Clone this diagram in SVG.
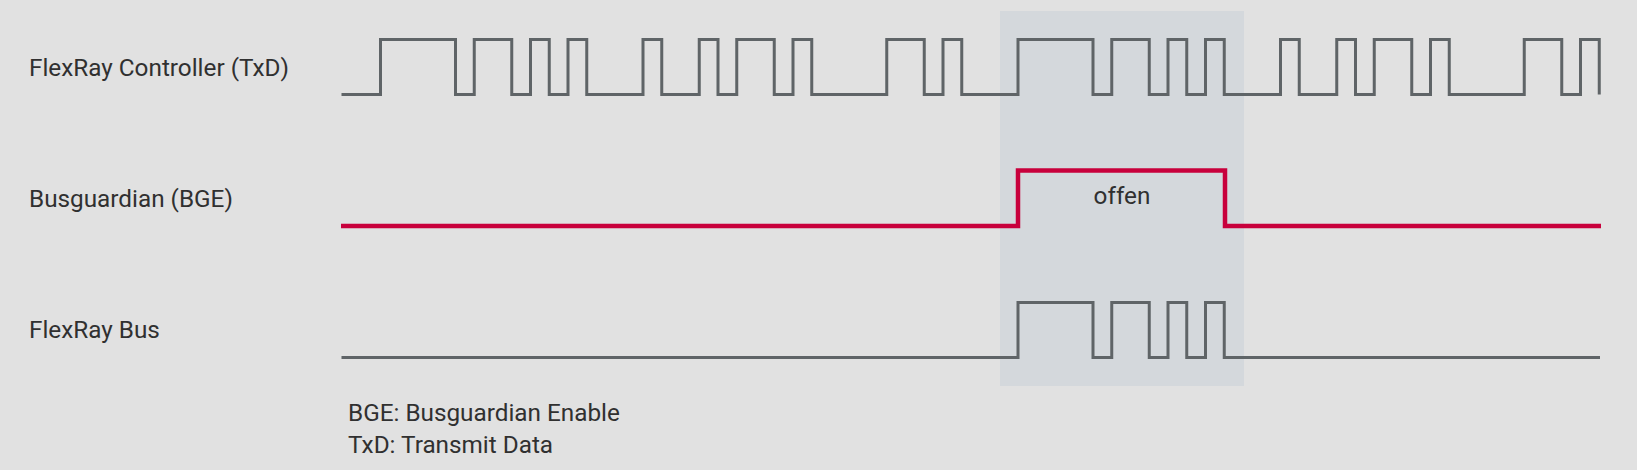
<svg xmlns="http://www.w3.org/2000/svg" width="1637" height="470" viewBox="0 0 1637 470">
<style>
.lbl{font-family:Roboto,"Liberation Sans",sans-serif;font-size:24.3px;fill:#303030}
.sig{fill:none;stroke:#5f6467;stroke-width:3;stroke-linejoin:miter}
.bge{fill:none;stroke:#c8003c;stroke-width:4.5;stroke-linejoin:miter}
</style>
<rect x="0" y="0" width="1637" height="470" fill="#e1e1e1"/>
<rect id="window" x="1000" y="11" width="244" height="375" fill="#d4d8dc"/>
<g id="label-txd"><text class="lbl" x="29" y="75.5">FlexRay Controller (TxD)</text></g>
<g id="label-bge"><text class="lbl" x="29" y="206.5">Busguardian (BGE)</text></g>
<g id="label-bus"><text class="lbl" x="29" y="338">FlexRay Bus</text></g>
<g id="signals">
<path id="txd" class="sig" d="M341.5 94.5 H380.5 V39.5 H455.5 V94.5 H474.25 V39.5 H511.75 V94.5 H530.5 V39.5 H549.25 V94.5 H568 V39.5 H586.75 V94.5 H643 V39.5 H661.75 V94.5 H699.25 V39.5 H718 V94.5 H736.75 V39.5 H774.25 V94.5 H793 V39.5 H811.75 V94.5 H886.75 V39.5 H924.25 V94.5 H943 V39.5 H961.75 V94.5 H1018 V39.5 H1093 V94.5 H1111.75 V39.5 H1149.25 V94.5 H1168 V39.5 H1186.75 V94.5 H1205.5 V39.5 H1224.25 V94.5 H1280.5 V39.5 H1299.25 V94.5 H1336.75 V39.5 H1355.5 V94.5 H1374.25 V39.5 H1411.75 V94.5 H1430.5 V39.5 H1449.25 V94.5 H1524.25 V39.5 H1561.75 V94.5 H1580.5 V39.5 H1599.25 V94.5"/>
<path id="bge" class="bge" d="M341 226 H1018 V170.5 H1225 V226 H1601"/>
<path id="bus" class="sig" d="M341.5 357.5 H1018 V302.5 H1093 V357.5 H1111.75 V302.5 H1149.25 V357.5 H1168 V302.5 H1186.75 V357.5 H1205.5 V302.5 H1224.25 V357.5 H1600"/>
</g>
<g id="label-offen"><text class="lbl" x="1122" y="204" text-anchor="middle">offen</text></g>
<g id="legend">
<text class="lbl" x="348" y="421">BGE: Busguardian Enable</text>
<text class="lbl" x="348" y="453">TxD: Transmit Data</text>
</g>
</svg>
